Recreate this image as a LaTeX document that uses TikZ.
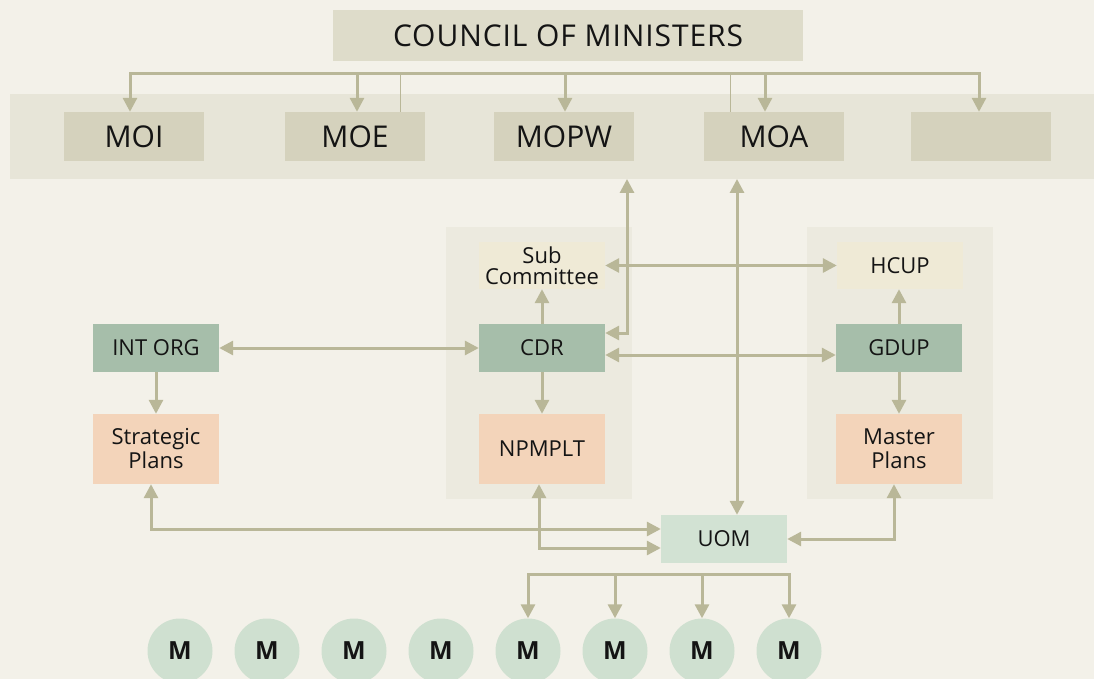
\documentclass[tikz,border=0pt]{standalone}
\usepackage{fontspec}
\setmainfont{Open Sans}
\usetikzlibrary{arrows.meta,calc}
\definecolor{bgc}{RGB}{243,241,233}
\definecolor{bandc}{RGB}{231,229,216}
\definecolor{councilc}{RGB}{222,220,202}
\definecolor{minc}{RGB}{213,210,189}
\definecolor{panelc}{RGB}{236,234,223}
\definecolor{subc}{RGB}{239,234,214}
\definecolor{greenc}{RGB}{166,190,170}
\definecolor{peachc}{RGB}{243,212,186}
\definecolor{uomc}{RGB}{210,226,211}
\definecolor{mc}{RGB}{207,224,208}
\definecolor{arrc}{RGB}{185,183,152}
\definecolor{txtc}{RGB}{20,20,20}
\tikzset{
  tip/.tip={Triangle[length=14pt,width=14pt]},
  conn/.style={draw=arrc,line width=3pt},
  arr/.style={conn,-tip},
  dbl/.style={conn,tip-tip},
  thinln/.style={draw=arrc,line width=0.8pt},
  box/.style={rectangle,inner sep=0pt,text=txtc,align=center},
  minbox/.style={box,fill=minc,minimum width=140pt,minimum height=49pt,font=\fontsize{30}{30}\selectfont},
  midbox/.style={box,minimum width=126pt,minimum height=48pt,font=\fontsize{22}{21}\selectfont},
  greenbox/.style={midbox,fill=greenc},
  peachbox/.style={midbox,fill=peachc,minimum height=70pt,font=\fontsize{22}{24}\selectfont},
  subbox/.style={midbox,fill=subc,minimum height=47pt},
  mcirc/.style={circle,fill=mc,minimum size=65pt,inner sep=0pt,text=txtc,font=\fontsize{25}{25}\selectfont\bfseries},
}
\begin{document}
\begin{tikzpicture}[x=1pt,y=-1pt]
\useasboundingbox (0,0) rectangle (1094,679);
\clip (0,0) rectangle (1094,679);
\fill[bgc] (0,0) rectangle (1094,679);
% band and panels
\node[box,fill=bandc,minimum width=1084pt,minimum height=85pt] (band) at (552,136.5) {};
\node[box,fill=panelc,minimum width=186pt,minimum height=272pt] (pc) at (539,363) {};
\node[box,fill=panelc,minimum width=186pt,minimum height=272pt] (pr) at (900,363) {};
% council
\node[box,fill=councilc,minimum width=470pt,minimum height=51pt,font=\fontsize{30}{30}\selectfont\addfontfeature{LetterSpace=3}] (council) at (568,35.5) {COUNCIL OF MINISTERS};
% ministries
\node[minbox] (moi) at (134,136.5) {MOI};
\node[minbox] (moe) at (355,136.5) {MOE};
\node[minbox] (mopw) at (564,136.5) {MOPW};
\node[minbox] (moa) at (774,136.5) {MOA};
\node[minbox] (blank) at (981,136.5) {};
% middle
\node[subbox] (sub) at (542,265.5) {Sub\\Committee};
\node[greenbox] (cdr) at (542,348) {CDR};
\node[peachbox] (npm) at (542,449) {NPMPLT};
\node[subbox] (hcup) at (900,265.5) {HCUP};
\node[greenbox] (gdup) at (899,348) {GDUP};
\node[peachbox] (master) at (899,449) {Master\\Plans};
\node[greenbox] (intorg) at (156,348) {INT ORG};
\node[peachbox] (strat) at (156,449) {Strategic\\Plans};
\node[midbox,fill=uomc] (uom) at (724,539) {UOM};
% circles
\foreach \i in {1,...,8}{
  \node[mcirc] (m\i) at ({180+87*(\i-1)},651) {M};
}
% council bus
\coordinate (b1) at (130,74);
\coordinate (b2) at (357,74);
\coordinate (b3) at (565,74);
\coordinate (b4) at (765,74);
\coordinate (b5) at (979,74);
\coordinate (t1) at (400,74);
\coordinate (t2) at (730,74);
\draw[thinln] (t1) -- (t1 |- moe.north);
\draw[thinln] (t2) -- (t2 |- moa.north);
\draw[dbl] (moi.north -| b1) -- (b1) -- (b5) -- (blank.north -| b5);
\draw[arr] (b2) -- (moe.north -| b2);
\draw[arr] (b3) -- (mopw.north -| b3);
\draw[arr] (b4) -- (moa.north -| b4);
% verticals from band
\coordinate (vp) at (627,179);
\coordinate (va) at (737,179);
\draw[dbl] (vp) |- ([yshift=15pt]cdr.east);
\draw[dbl] (va) -- (va |- uom.north);
% middle connections
\draw[dbl] (intorg.east) -- (cdr.west);
\draw[arr] (intorg.south) -- (strat.north);
\draw[arr] (cdr.north) -- (sub.south);
\draw[arr] (cdr.south) -- (npm.north);
\draw[arr] (gdup.north) -- (gdup.north |- hcup.south);
\draw[arr] (gdup.south) -- (master.north);
\draw[dbl] (sub.east) -- (hcup.west);
\draw[dbl] ([yshift=-7pt]cdr.east) -- ([yshift=-7pt]gdup.west);
% to UOM
\draw[dbl] ([xshift=-5pt]strat.south) |- ([yshift=10pt]uom.west);
\draw[dbl] ([xshift=-3pt]npm.south) |- ([yshift=-9pt]uom.west);
\draw[dbl] (uom.east) -| ([xshift=-5pt]master.south);
% bottom bus
\coordinate (mb) at (0,574);
\draw[dbl] (m5.north) -- (m5 |- mb) -- (m8 |- mb) -- (m8.north);
\draw[arr] (m6 |- mb) -- (m6.north);
\draw[arr] (m7 |- mb) -- (m7.north);
\end{tikzpicture}
\end{document}
